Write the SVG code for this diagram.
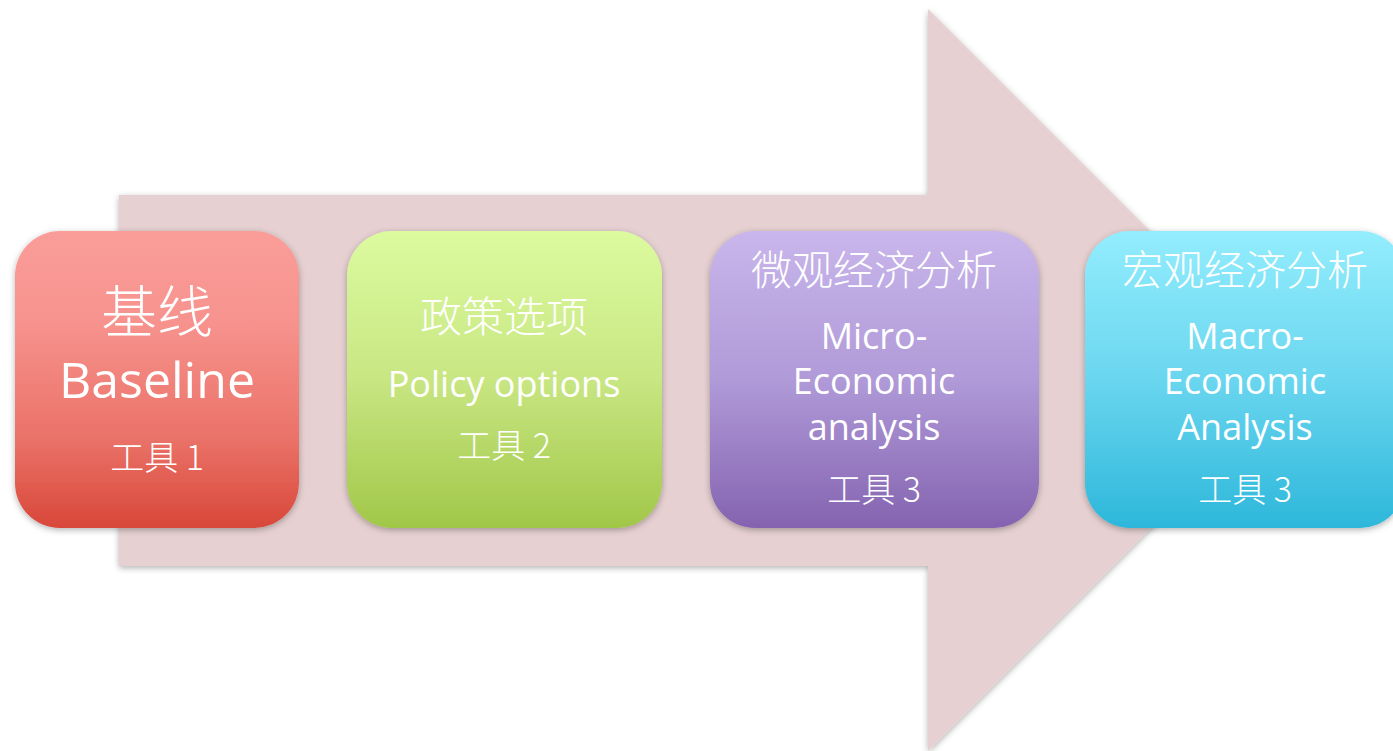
<svg xmlns="http://www.w3.org/2000/svg" width="1393" height="751" viewBox="0 0 1393 751">
<defs>
<filter id="sh" x="-10%" y="-10%" width="120%" height="125%">
<feDropShadow dx="0" dy="2" stdDeviation="3" flood-color="#000" flood-opacity="0.3"/>
</filter>
<linearGradient id="g1" x1="0" y1="0" x2="0" y2="1"><stop offset="0" stop-color="#fa9d99"/><stop offset="0.3" stop-color="#f7938e"/><stop offset="0.7" stop-color="#ea7268"/><stop offset="1" stop-color="#d84739"/></linearGradient>
<linearGradient id="g2" x1="0" y1="0" x2="0" y2="1"><stop offset="0" stop-color="#dcfb9f"/><stop offset="0.5" stop-color="#c8e682"/><stop offset="1" stop-color="#a1c749"/></linearGradient>
<linearGradient id="g3" x1="0" y1="0" x2="0" y2="1"><stop offset="0" stop-color="#c9b6eb"/><stop offset="0.5" stop-color="#b09ad8"/><stop offset="1" stop-color="#8463b0"/></linearGradient>
<linearGradient id="g4" x1="0" y1="0" x2="0" y2="1"><stop offset="0" stop-color="#93edfd"/><stop offset="0.5" stop-color="#6ad6ef"/><stop offset="1" stop-color="#2db7da"/></linearGradient>
<style>
.box{filter:url(#sh)}
.t{fill:#fff;text-anchor:middle;font-family:"Open Sans","Noto Sans","Noto Sans CJK SC",sans-serif}
.cn{fill:#fff;text-anchor:middle;font-family:"Noto Sans CJK SC",sans-serif;font-weight:300}
</style>
</defs>
<g id="connectors">
<polygon points="119,195 928,195 928,9 1299,380 928,751 928,566 119,566" fill="#e6d0d1" filter="url(#sh)"/>
</g>
<g id="node1">
<rect class="box" x="15" y="231" width="284" height="297" rx="45" fill="url(#g1)"/>
<text class="cn" x="157" y="332" font-size="56">基线</text>
<text class="t" x="157" y="398" font-size="50">Baseline</text>
<text class="cn" x="157" y="470" font-size="34">工具 1</text>
</g>
<g id="node2">
<rect class="box" x="347" y="231" width="315" height="297" rx="45" fill="url(#g2)"/>
<text class="cn" x="504" y="332" font-size="42">政策选项</text>
<text class="t" x="504" y="397" font-size="36">Policy options</text>
<text class="cn" x="504" y="458" font-size="34">工具 2</text>
</g>
<g id="node3">
<rect class="box" x="710" y="231" width="329" height="297" rx="45" fill="url(#g3)"/>
<text class="cn" x="874" y="285" font-size="41">微观经济分析</text>
<text class="t" x="874" y="349" font-size="36">Micro-</text>
<text class="t" x="874" y="394" font-size="36">Economic</text>
<text class="t" x="874" y="440" font-size="36">analysis</text>
<text class="cn" x="874" y="502" font-size="34">工具 3</text>
</g>
<g id="node4">
<rect class="box" x="1085" y="231" width="320" height="297" rx="45" fill="url(#g4)"/>
<text class="cn" x="1245" y="285" font-size="41">宏观经济分析</text>
<text class="t" x="1245" y="349" font-size="36">Macro-</text>
<text class="t" x="1245" y="394" font-size="36">Economic</text>
<text class="t" x="1245" y="440" font-size="36">Analysis</text>
<text class="cn" x="1245" y="502" font-size="34">工具 3</text>
</g>
</svg>
